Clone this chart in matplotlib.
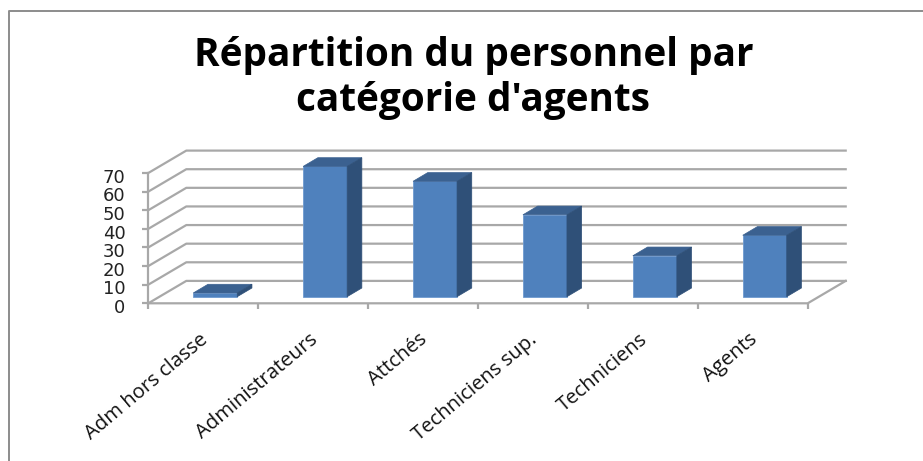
import matplotlib
matplotlib.use("Agg")
import matplotlib.pyplot as plt
from matplotlib.patches import Polygon
from matplotlib.transforms import ScaledTranslation

categories = ["Adm hors classe", "Administrateurs", "Attchés", "Techniciens sup.", "Techniciens", "Agents"]
values = [2, 70, 62, 44, 22, 33]
y_ticks = [0, 10, 20, 30, 40, 50, 60, 70]
title = "Répartition du personnel par\ncatégorie d'agents"

W, H = 923, 461
fig = plt.figure(figsize=(W / 100, H / 100), dpi=100, facecolor="white")
L, R, B, T = 148.3, 807.7, 303.3, 173.0
ax = fig.add_axes([L / W, 1 - B / H, (R - L) / W, (B - T) / H])
ax.set_xlim(0, len(categories))
ax.set_ylim(0, 70)
ax.patch.set_visible(False)
for s in ax.spines.values():
    s.set_visible(False)

GRID = "#a8a8a8"
# depth of the floor in axis units
DX, DY = 38 / ((R - L) / 6), 22.4 / ((B - T) / 70)
# bar placement on the floor and bar depth
BAR_W, BAR_X, BAR_Y = 44 / ((R - L) / 6), 12 / ((R - L) / 6), 6.6 / ((B - T) / 70)
BD_X, BD_Y = 14.7 / ((R - L) / 6), 8.7 / ((B - T) / 70)
n = len(categories)

for v in y_ticks:
    ax.plot([0, DX, n + DX], [v, v + DY, v + DY], color=GRID, lw=1.6, clip_on=False, zorder=1)
ax.plot([0, n, n + DX], [0, 0, DY], color=GRID, lw=1.6, clip_on=False, zorder=1)
ax.plot([0, 0], [0, 70], color=GRID, lw=1.6, clip_on=False, zorder=1)

for i, v in enumerate(values):
    x0 = i + 0.5 - BAR_W / 2 + BAR_X
    x1 = x0 + BAR_W
    ax.bar(x0, v, width=BAR_W, bottom=BAR_Y, align="edge", color="#4f81bd",
           edgecolor="#6f9bd0", lw=0.6, clip_on=False, zorder=3)
    top = v + BAR_Y
    ax.add_patch(Polygon([(x0, top), (x1, top), (x1 + BD_X, top + BD_Y), (x0 + BD_X, top + BD_Y)],
                         closed=True, fc="#3b6190", ec="#3b6190", lw=0.5, clip_on=False, zorder=3))
    ax.add_patch(Polygon([(x1, BAR_Y), (x1, top), (x1 + BD_X, top + BD_Y), (x1 + BD_X, BAR_Y + BD_Y)],
                         closed=True, fc="#2f5078", ec="#2f5078", lw=0.5, clip_on=False, zorder=3))

ax.set_xticks(range(n + 1))
ax.set_xticklabels([])
ax.set_yticks(y_ticks)
ax.tick_params(axis="both", length=4.5, width=1.6, color=GRID, direction="out")
ax.tick_params(axis="y", labelsize=13, pad=12, labelcolor="#222222")
shift = ScaledTranslation(0, -2 / 72, fig.dpi_scale_trans)
for t in ax.get_yticklabels():
    t.set_fontfamily("DejaVu Sans")
    t.set_transform(t.get_transform() + shift)

for i, c in enumerate(categories):
    ax.annotate(c, xy=(i + 0.5, 0), xytext=(1.5, -24.5), textcoords="offset points",
                rotation=40, rotation_mode="anchor", ha="right", va="center",
                fontsize=14.6, family="Open Sans", color="#111111", annotation_clip=False)

fig.text(473.5 / W, 1 - 78 / H, title, ha="center", va="center", fontsize=27.9, fontweight="bold",
         family="Open Sans", color="#000000", linespacing=1.17)

# outer frame of the chart area
fig.add_artist(plt.Line2D([8.5 / W, 8.5 / W, 1], [0, 1 - 11 / H, 1 - 11 / H], color="#8c8c8c", lw=1.4))

fig.savefig("out.png", dpi=100)
